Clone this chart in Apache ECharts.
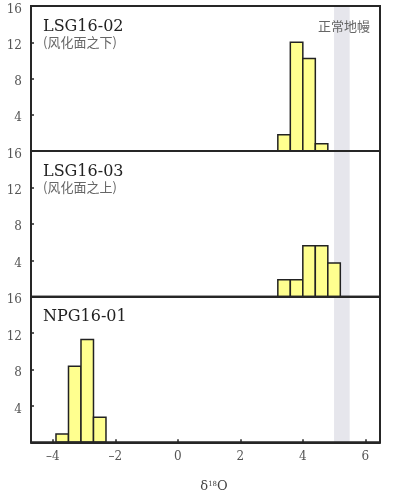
<!DOCTYPE html>
<html><head><meta charset="utf-8">
<script src="https://cdn.jsdelivr.net/npm/echarts@6/dist/echarts.min.js"></script>
<style>html,body{margin:0;padding:0;background:#fff}#c{width:393px;height:497px}</style>
</head><body><div id="c"></div>
<script>
// ---- data ----
const panelNames = ['LSG16-02', 'LSG16-03', 'NPG16-01'];
const panelNotes = ['(风化面之下)', '(风化面之上)', ''];
const lsg02Edges = [3.2, 3.6, 4.0, 4.4, 4.8];
const lsg02Counts = [1.8, 12.0, 10.2, 0.8];
const lsg03Edges = [3.2, 3.6, 4.0, 4.4, 4.8, 5.2];
const lsg03Counts = [1.85, 1.85, 5.6, 5.6, 3.7];
const npg01Edges = [-3.9, -3.5, -3.1, -2.7, -2.3];
const npg01Counts = [0.9, 8.35, 11.3, 2.76];
const mantleRange = [5.0, 5.5];
const mantleLabel = '正常地幔';
const xTickValues = [-4, -2, 0, 2, 4, 6];
const yTickValues = [4, 8, 12, 16];
const xRange = [-4.7, 6.47];
const yRange = [0, 16];

function toBins(edges, counts) {
  return counts.map((c, i) => [edges[i], edges[i + 1], c]);
}
const panelData = [toBins(lsg02Edges, lsg02Counts), toBins(lsg03Edges, lsg03Counts), toBins(npg01Edges, npg01Counts)];

const serif = 'DejaVu Serif';
const cjk = 'Noto Sans CJK SC';
const gridTops = [6, 151, 296.7];
const gridH = [145, 145.7, 145.6];

const grids = [], xAxes = [], yAxes = [], series = [], titles = [];
for (let i = 0; i < 3; i++) {
  const last = i === 2;
  grids.push({left: 31, right: 13, top: gridTops[i], height: gridH[i], show: true, z: 10,
    backgroundColor: 'transparent', borderColor: '#262626', borderWidth: 2});
  xAxes.push({type: 'value', gridIndex: i, min: xRange[0], max: xRange[1], z: 10, position: 'bottom',
    axisLine: {show: true, onZero: false, lineStyle: {color: '#262626', width: 2}},
    splitLine: {show: false},
    axisTick: {show: last, inside: true, length: 3, customValues: xTickValues, lineStyle: {color: '#262626', width: 1.5}},
    axisLabel: {show: last, customValues: xTickValues, margin: 9, color: '#555', fontFamily: serif, fontSize: 12,
      formatter: v => String(v).replace('-', '–')},
    name: last ? '{d|δ}{s|18}{d|O}' : '', nameLocation: 'middle', nameGap: 38,
    nameTextStyle: {padding: [0, 0, 0, 17], rich: {
      d: {fontFamily: serif, fontSize: 13, color: '#444'},
      s: {fontFamily: serif, fontSize: 7, color: '#444', verticalAlign: 'top', padding: [0, 0, 6, 0]}}}
  });
  yAxes.push({type: 'value', gridIndex: i, min: yRange[0], max: yRange[1], z: 10, position: 'left',
    axisLine: {show: true, onZero: false, lineStyle: {color: '#262626', width: 2}},
    splitLine: {show: false},
    axisTick: {show: true, inside: true, length: 3, customValues: yTickValues, lineStyle: {color: '#262626', width: 1.5}},
    axisLabel: {customValues: yTickValues, margin: 9, verticalAlign: 'top', lineHeight: 7, color: '#555', fontFamily: serif, fontSize: 12}
  });
  series.push({type: 'line', xAxisIndex: i, yAxisIndex: i, data: [], z: 1, silent: true,
    markArea: {silent: true, itemStyle: {color: '#e6e6ec'}, data: [[{xAxis: mantleRange[0]}, {xAxis: mantleRange[1]}]]}});
  series.push({type: 'custom', xAxisIndex: i, yAxisIndex: i, z: 3, data: panelData[i],
    encode: {x: [0, 1], y: 2},
    renderItem: function (params, api) {
      const p0 = api.coord([api.value(0), 0]);
      const p1 = api.coord([api.value(1), api.value(2)]);
      return {type: 'rect', shape: {x: p0[0], y: p1[1], width: p1[0] - p0[0], height: p0[1] - p1[1]},
        style: {fill: '#ffff8f', stroke: '#222', lineWidth: 1.5}};
    }});
  titles.push({text: panelNames[i], subtext: panelNotes[i], left: 43, top: gridTops[i] + 12.5, padding: 0, itemGap: 1,
    textStyle: {fontFamily: serif, fontSize: 16, fontWeight: 'normal', color: '#222'},
    subtextStyle: {fontFamily: cjk, fontSize: 13, color: '#666'}});
}
titles.push({text: mantleLabel, right: 23, top: 20, padding: 0,
  textStyle: {fontFamily: cjk, fontSize: 13, fontWeight: 'normal', color: '#666', letterSpacing: 1}});

const chart = echarts.init(document.getElementById('c'), null, {renderer: 'canvas'});
chart.setOption({animation: false, backgroundColor: '#fff', title: titles, grid: grids, xAxis: xAxes, yAxis: yAxes, series: series});
</script></body></html>
